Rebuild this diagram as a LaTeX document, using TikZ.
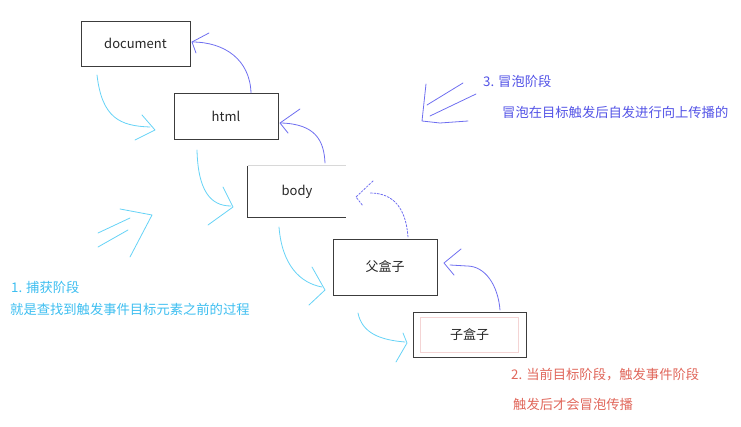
\documentclass[tikz,border=0pt]{standalone}
\usepackage{fontspec}
\setmainfont{Noto Sans CJK SC}
\definecolor{cap}{HTML}{66D3F6}
\definecolor{capt}{HTML}{3DBEF0}
\definecolor{bub}{HTML}{6E6EF0}
\definecolor{bubt}{HTML}{5353E6}
\definecolor{tgt}{HTML}{E0665A}
\definecolor{frame}{HTML}{3C3C3C}
\definecolor{lightframe}{HTML}{D8D8D8}
\definecolor{pinkframe}{HTML}{F4D4D4}
\begin{document}
\begin{tikzpicture}[x=1pt,y=-1pt,
  box/.style={draw=frame, line width=0.9pt, inner sep=0pt},
  lbl/.style={font=\fontsize{13}{15}\selectfont, text=black!85},
  capline/.style={draw=cap, line width=0.8pt, line cap=round, line join=round},
  bubline/.style={draw=bub, line width=0.8pt, line cap=round, line join=round},
  note/.style={anchor=west, inner sep=0pt, font=\fontsize{13.3}{16}\selectfont}]
\useasboundingbox (0,0) rectangle (741,427);

% boxes
\node[box, lbl, minimum width=109pt, minimum height=45pt] (document) at (135.5,43.5) {document};
\node[box, lbl, minimum width=104pt, minimum height=46pt] (html) at (226,116) {html};
\node[lbl, inner sep=0pt, minimum width=98pt, minimum height=51pt] (body) at (297,191.5) {body};
\draw[lightframe, line width=0.9pt] (body.north west) -- (body.north east);
\draw[frame, line width=0.9pt] (body.north west) -- (body.south west) -- (body.south east);
\node[box, lbl, minimum width=104pt, minimum height=56pt] (parent) at (385,267) {父盒子};
\node[box, minimum width=113pt, minimum height=45pt] (child) at (469.5,334.5) {};
\node[draw=pinkframe, line width=0.8pt, lbl, inner sep=0pt, minimum width=98pt, minimum height=35pt] (inner) at (child.center) {子盒子};

% capture arrows (cyan)
\draw[capline] (97,75) .. controls (102,118) and (120,126) .. (150,127);
\draw[capline] (142,115) -- (155,130) -- (135,140);
\draw[capline] (197,150) .. controls (198,190) and (210,206) .. (231,206);
\draw[capline] (223,187) -- (233,207) -- (208,225);
\draw[capline] (279,227) .. controls (282,265) and (300,283) .. (322,287);
\draw[capline] (312,267) -- (325,290) -- (309,305);
\draw[capline] (358,313) .. controls (362,333) and (380,340) .. (405,342);
\draw[capline] (403,333) -- (407,343) -- (396,362);
% standalone cyan chevron
\draw[capline] (120,209) -- (152,215) -- (130,257);
\draw[capline] (98,233) -- (130,218);
\draw[capline] (98,247) -- (128,230);

% bubbling arrows (purple)
\draw[bubline] (251,93) .. controls (250,60) and (225,42) .. (192,42);
\draw[bubline] (209,33) -- (192,42) -- (196,53);
\draw[bubline] (325,163) .. controls (324,140) and (315,124) .. (281,123);
\draw[bubline] (300,109) -- (280,123) -- (288,133);
\draw[bubline, dash pattern=on 2pt off 1.5pt] (408,237) .. controls (406,210) and (395,193) .. (370,193);
\draw[bubline, dash pattern=on 2pt off 1.5pt] (373,181) -- (356,197) -- (363,206);
\draw[bubline] (500,310) .. controls (498,285) and (485,266) .. (467,266) -- (450,265);
\draw[bubline] (461,249) -- (444,263) -- (454,275);
% standalone purple chevron
\draw[bubline] (426,84) -- (422,121) -- (440,123) -- (468,121);
\draw[bubline] (427,105) -- (463,83);
\draw[bubline] (430,116) -- (476,94);

% notes
\node[note, text=bubt] (n3a) at (483,81) {3. 冒泡阶段};
\node[note, text=bubt] (n3b) at (502,112) {冒泡在目标触发后自发进行向上传播的};
\node[note, text=capt] (n1a) at (11,287) {1. 捕获阶段};
\node[note, text=capt] (n1b) at (10,309) {就是查找到触发事件目标元素之前的过程};
\node[note, text=tgt] (n2a) at (511,375) {2. 当前目标阶段，触发事件阶段};
\node[note, text=tgt] (n2b) at (513,404) {触发后才会冒泡传播};
\end{tikzpicture}
\end{document}
